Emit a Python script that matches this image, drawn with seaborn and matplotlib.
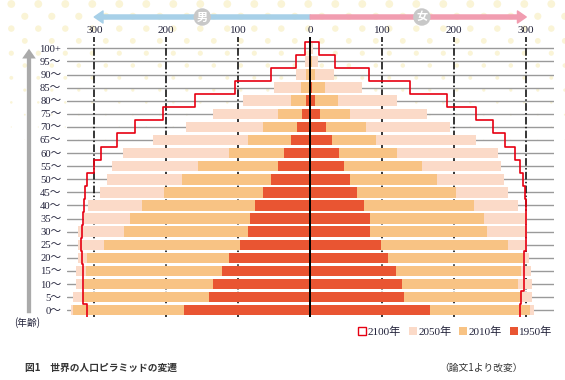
import numpy as np
import pandas as pd
import matplotlib
matplotlib.use('Agg')
from matplotlib import pyplot as plt
from matplotlib.patches import Patch
import seaborn as sns

# age groups, youngest first (millions of people per 5-year group)
ages = ['0〜', '5〜', '10〜', '15〜', '20〜', '25〜', '30〜', '35〜', '40〜', '45〜',
        '50〜', '55〜', '60〜', '65〜', '70〜', '75〜', '80〜', '85〜', '90〜', '95〜', '100+']

male_1950 = [175, 141, 135, 123, 113, 98, 86, 83, 77, 66, 55, 45, 37, 27, 19, 12, 6, 2, 0.6, 0.1, 0]
female_1950 = [166, 130, 127, 119, 108, 98, 83, 83, 75, 65, 55, 47, 40, 30, 22, 14, 7, 3, 1, 0.2, 0]
male_2010 = [330, 316, 314, 312, 310, 287, 258, 250, 234, 203, 178, 156, 113, 86, 66, 45, 27, 13, 6, 2, 0.4]
female_2010 = [305, 293, 288, 293, 296, 274, 246, 241, 227, 202, 176, 155, 120, 91, 78, 55, 39, 20, 6.5, 3, 1]
male_2050 = [332, 330, 326, 326, 323, 323, 323, 314, 309, 292, 282, 275, 260, 218, 173, 135, 93, 50, 20, 7.5, 2]
female_2050 = [311, 308, 308, 306, 304, 301.5, 301, 300.5, 289, 274, 269, 265, 261, 230, 194, 162, 120, 72, 33, 10.6, 3.3]
male_2100 = [310, 315, 315, 316, 317, 318, 317, 315, 314, 313, 310, 301, 290, 268, 243, 204, 160, 104, 54, 20, 7]
female_2100 = [292, 293, 297, 297, 297.5, 300, 300, 300, 300, 298, 296, 292, 284, 271, 254, 230, 190, 139, 81, 35, 12.5]

years = ['2050', '2010', '1950']
colors = {'1950': '#E95532', '2010': '#F8C384', '2050': '#FBDAC8', '2100': '#E60012'}
ticks = [-300, -200, -100, 0, 100, 200, 300]


def long_table(series, sign):
    rows = []
    for yr, vals in series.items():
        for age, v in zip(ages, vals):
            rows.append({'age': age, 'year': yr, 'value': sign * v})
    return pd.DataFrame(rows)


males = long_table({'2050': male_2050, '2010': male_2010, '1950': male_1950}, -1)
females = long_table({'2050': female_2050, '2010': female_2010, '1950': female_1950}, 1)

sns.set_style('white')
plt.rcParams['font.family'] = ['Liberation Serif', 'Noto Sans CJK JP', 'DejaVu Sans']
jp = ['Noto Sans CJK JP', 'DejaVu Sans']
ink = '#22223a'

fig = plt.figure(figsize=(5.65, 3.8), dpi=100)

# pale polka-dot background, fading downwards
bg = fig.add_axes([0, 0, 1, 1], zorder=-1)
bg.set_xlim(0, 565)
bg.set_ylim(380, 0)
bg.axis('off')
dx, dy = [], []
for r in range(12):
    yy = 4 + 12.3 * r
    for xx in np.arange(11.3 + 13.5 * (r % 2), 565, 27):
        dx.append(xx)
        dy.append(yy)
dx, dy = np.array(dx), np.array(dy)
diam = np.clip(8 * (1 - dy / 150), 0, None)
bg.scatter(dx, dy, s=(0.72 * diam) ** 2, color='#FAF4D6', linewidths=0)

ax = fig.add_axes([0.1184, 0.1663, 0.8614, 0.7376])
ax.patch.set_alpha(0)
order = ages[::-1]
pal = [colors[y] for y in years]
for df in (males, females):
    sns.barplot(data=df, x='value', y='age', hue='year', hue_order=years, order=order,
                palette=pal, dodge=False, orient='h', width=0.8, errorbar=None,
                saturation=1, linewidth=0, legend=False, ax=ax, zorder=3)

# 2100 as a stepped outline
m = np.array(male_2100[::-1])
f = np.array(female_2100[::-1])
kl = np.arange(len(m) - 1, -1, -1)
kr = np.arange(len(f))
xs = np.concatenate([-np.repeat(m[kl], 2), np.repeat(f[kr], 2)])
ys = np.concatenate([np.column_stack([kl + 0.5, kl - 0.5]).ravel(),
                     np.column_stack([kr - 0.5, kr + 0.5]).ravel()])
ax.plot(xs, ys, color=colors['2100'], lw=1.2, zorder=4)

ax.set_xlim(-338, 338)
ax.set_ylim(20.5, -0.9)
for t in ticks:
    if t == 0:
        ax.axvline(0, color='black', lw=1.4, zorder=5)
    else:
        ax.axvline(t, color='black', lw=1.1, ls=(0, (5, 1.5, 1, 1.5)), zorder=2)
for k in range(len(ages)):
    ax.axhline(k, color='#9a9a9a', lw=1.0, zorder=1)

ax.xaxis.tick_top()
ax.set_xticks(ticks)
ax.set_xticklabels([str(abs(t)) for t in ticks], fontsize=8, color=ink)
ax.tick_params(axis='x', length=0, pad=1)
ax.tick_params(axis='y', length=0, pad=4, labelsize=7.7, labelcolor=ink)
ax.set_xlabel('')
ax.set_ylabel('')
for s in ax.spines.values():
    s.set_visible(False)

# sex arrows across the top
yfig = 1 - 17 / 380
trans = ('data', 'figure fraction')
for end, col in ((-300, '#A7D0E8'), (300, '#F19DB0')):
    ax.annotate('', xy=(end, yfig), xytext=(0, yfig), xycoords=trans, textcoords=trans,
                arrowprops=dict(arrowstyle='simple,head_length=0.45,head_width=0.62,tail_width=0.21',
                                color=col, shrinkA=0, shrinkB=0, mutation_scale=14),
                annotation_clip=False)
for xc, lab in ((-150, '男'), (155, '女')):
    ax.annotate(lab, xy=(xc, yfig), xycoords=trans, ha='center', va='center',
                fontsize=8, color='white', fontweight='bold', family=jp,
                bbox=dict(boxstyle='circle,pad=0.2', fc='#C8C8C8', ec='none'),
                annotation_clip=False)

# age arrow on the left
fig.add_artist(matplotlib.patches.FancyArrowPatch(
    (29 / 565, 1 - 316 / 380), (29 / 565, 1 - 46 / 380), transform=fig.transFigure,
    arrowstyle='simple,head_length=0.5,head_width=0.7,tail_width=0.22',
    mutation_scale=14, color='#AAAAAA', lw=0))

fig.text(27 / 565, 1 - 323 / 380, '(年齢)', ha='center', va='center', fontsize=7, color=ink, family=jp)

handles = [Patch(facecolor='white', edgecolor=colors['2100'], lw=1)] + \
          [Patch(facecolor=colors[y], edgecolor='none') for y in ('2050', '2010', '1950')]
fig.legend(handles, ['2100年', '2050年', '2010年', '1950年'], loc='center right',
           bbox_to_anchor=(558 / 565, 1 - 332 / 380), ncol=4, frameon=False, fontsize=8,
           handlelength=0.7, handleheight=0.7, handletextpad=0.15, columnspacing=0.7,
           borderpad=0, labelcolor=ink)

fig.text(25 / 565, 1 - 368 / 380, '図1　世界の人口ピラミッドの変遷', ha='left', va='center',
         fontsize=7, fontweight='bold', color='#333333', family=jp)
fig.text(523 / 565, 1 - 368 / 380, '（論文1より改変）', ha='right', va='center',
         fontsize=7, color='#333333', family=jp)

fig.savefig('out.png', dpi=100)
